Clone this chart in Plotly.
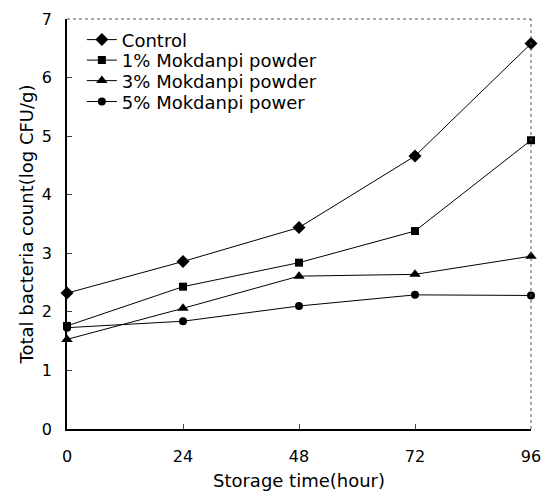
import plotly.graph_objects as go

hours = [0, 24, 48, 72, 96]
control = [2.32, 2.86, 3.44, 4.66, 6.58]
mok1 = [1.76, 2.43, 2.84, 3.38, 4.93]
mok3 = [1.53, 2.06, 2.61, 2.64, 2.95]
mok5 = [1.73, 1.84, 2.10, 2.29, 2.28]

names = ["Control", "1% Mokdanpi powder", "3% Mokdanpi powder", "5% Mokdanpi power"]
series = [control, mok1, mok3, mok5]
symbols = ["diamond", "square", "triangle-up", "circle"]
sizes = [10, 8, 10, 8]
legend_ids = ["legend", "legend2", "legend3", "legend4"]
legend_y = [0.949, 0.899, 0.849, 0.798]

fig = go.Figure()
for n, s, sym, sz, lg in zip(names, series, symbols, sizes, legend_ids):
    fig.add_trace(go.Scatter(
        x=hours, y=s, name=n, mode="lines+markers",
        line=dict(color="black", width=1),
        marker=dict(symbol=sym, size=sz, color="black"),
        cliponaxis=False, legend=lg,
    ))

font = "DejaVu Sans, sans-serif"
legend_common = dict(x=0.032, xanchor="left", yanchor="middle",
                     font=dict(size=18, family=font), bgcolor="rgba(0,0,0,0)",
                     itemwidth=30, borderwidth=0)
fig.update_layout(
    width=550, height=491,
    margin=dict(l=67, r=19, t=19, b=62),
    plot_bgcolor="white", paper_bgcolor="white",
    font=dict(family=font, color="black", size=16),
    showlegend=True,
    xaxis=dict(range=[0, 96], tickvals=hours, ticks="inside", ticklen=5,
               showline=True, linecolor="black", linewidth=1.5, showgrid=False,
               zeroline=False, ticklabelstandoff=12, tickfont=dict(size=16),
               automargin=False,
               title=dict(text="Storage time(hour)", standoff=12, font=dict(size=18))),
    yaxis=dict(range=[0, 7], dtick=1, ticks="inside", ticklen=5,
               showline=True, linecolor="black", linewidth=1.5, showgrid=False,
               zeroline=False, ticklabelstandoff=10, tickfont=dict(size=16),
               automargin=False,
               title=dict(text="Total bacteria count(log CFU/g)", standoff=4, font=dict(size=18))),
)
for lg, ly in zip(legend_ids, legend_y):
    fig.update_layout({lg: dict(legend_common, y=ly)})

fig.add_shape(type="line", xref="paper", yref="paper", x0=0, x1=1, y0=1, y1=1,
              line=dict(color="#555555", width=1, dash="dot"))
fig.add_shape(type="line", xref="paper", yref="paper", x0=1, x1=1, y0=0, y1=1,
              line=dict(color="#555555", width=1, dash="dot"))

fig.write_html("out.html", config={"displayModeBar": False},
               post_script="document.body.style.margin='0px';document.body.style.overflow='hidden';")
